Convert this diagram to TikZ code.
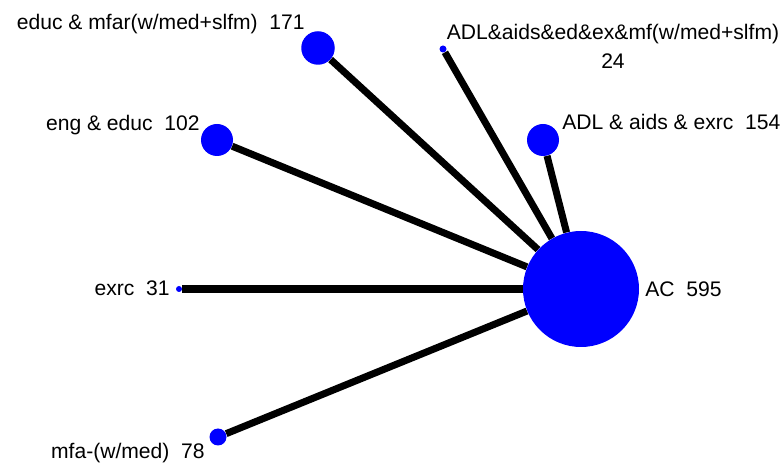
\documentclass[tikz,border=0pt]{standalone}
\usepackage{fontspec}
\setmainfont{Liberation Sans}
\usetikzlibrary{backgrounds}
\definecolor{nodeblue}{RGB}{0,0,255}

\begin{document}
\begin{tikzpicture}[
  font=\fontsize{12}{14.5}\selectfont,
  trt/.style={circle,fill=nodeblue,inner sep=0pt},
  lbl/.style={inner sep=0pt},
  link/.style={line width=4pt,black},
]
\useasboundingbox (0,0) rectangle (15.66,9.26);
\node[trt,minimum size=2.32cm] (ac) at (11.62,3.48) {};
\node[trt,minimum size=0.67cm] (edmf) at (6.36,8.30) {};
\node[trt,minimum size=0.14cm] (adlall) at (8.86,8.28) {};
\node[trt,minimum size=0.64cm] (adlex) at (10.86,6.46) {};
\node[trt,minimum size=0.64cm] (enged) at (4.34,6.46) {};
\node[trt,minimum size=0.12cm] (exrc) at (3.58,3.48) {};
\node[trt,minimum size=0.34cm] (mfa) at (4.36,0.52) {};

\begin{scope}[on background layer]
\foreach \n in {edmf,adlall,adlex,enged,exrc,mfa}
  \draw[link] (ac) -- (\n);
\end{scope}

\node[lbl,anchor=base west] (acl) at (12.90,3.32) {AC~~595};
\node[lbl,anchor=base east] (edmfl) at (6.10,8.66) {educ \& mfar(w/med+slfm)~~171};
\node[lbl,anchor=base,align=center] (adlalll) at (12.26,7.88) {ADL\&aids\&ed\&ex\&mf(w/med+slfm)\\[2.5pt]24};
\node[lbl,anchor=base west] (adlexl) at (11.24,6.66) {ADL \& aids \& exrc~~154};
\node[lbl,anchor=base east] (engedl) at (4.00,6.64) {eng \& educ~~102};
\node[lbl,anchor=base east] (exrcl) at (3.40,3.34) {exrc~~31};
\node[lbl,anchor=base east] (mfal) at (4.10,0.08) {mfa-(w/med)~~78};
\end{tikzpicture}
\end{document}
